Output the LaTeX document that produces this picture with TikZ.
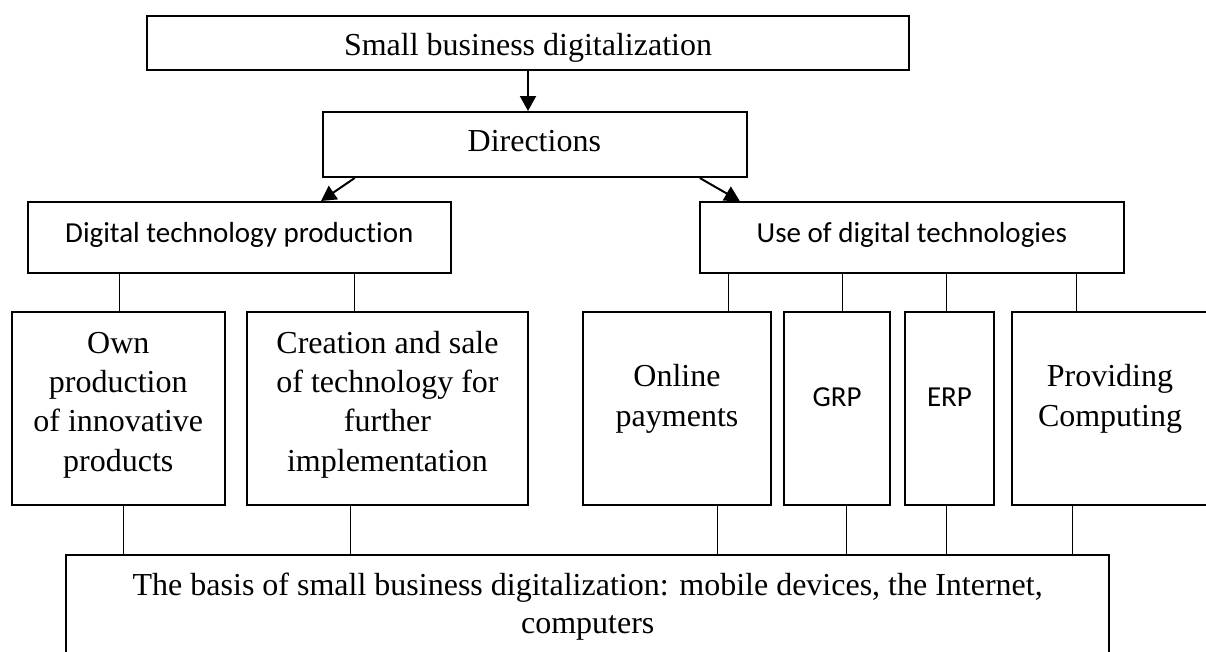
\documentclass[tikz,border=0pt]{standalone}
\usepackage{fontspec}
\setmainfont{Liberation Serif}
\newfontfamily\calfont[Ligatures=NoCommon]{Carlito}
\usetikzlibrary{arrows.meta}
% centred lines whose anchor is the baseline of the first line
\newcommand\stacklines[1]{\begin{tabular}[t]{@{}c@{}}#1\end{tabular}}
\begin{document}
\begin{tikzpicture}[x=1pt,y=-1pt,
  frame/.style={draw=black, line width=2pt, inner sep=0pt},
  serif/.style={font=\fontsize{32}{39.3}\selectfont, inner sep=0pt, anchor=base},
  sans/.style={font=\calfont\fontsize{29}{35}\selectfont, inner sep=0pt, anchor=base},
  link/.style={draw=black, line width=1pt},
  flow/.style={draw=black, line width=2pt, -{Triangle[width=16pt,length=15pt]}}]
\useasboundingbox (0,0) rectangle (1206,651);
\clip (0,0) rectangle (1206,651);

% boxes
\node[frame, minimum width=762.7pt, minimum height=54.3pt] (top) at (528,42.9) {};
\node[frame, minimum width=424pt, minimum height=65pt] (dir) at (534.5,144.5) {};
\node[frame, minimum width=423pt, minimum height=71pt] (dtp) at (239.3,237.5) {};
\node[frame, minimum width=424pt, minimum height=71pt] (udt) at (911.8,237.5) {};
\node[frame, minimum width=212.7pt, minimum height=193pt] (own) at (118.3,408.5) {};
\node[frame, minimum width=281pt, minimum height=193pt] (cre) at (387.5,408.5) {};
\node[frame, minimum width=187.6pt, minimum height=193pt] (onl) at (677,408.5) {};
\node[frame, minimum width=105.4pt, minimum height=193pt] (grp) at (837.1,408.5) {};
\node[frame, minimum width=88.7pt, minimum height=193pt] (erp) at (949.7,408.5) {};
\node[frame, minimum width=196pt, minimum height=193pt] (prv) at (1110,408.5) {};
\node[frame, minimum width=1042.6pt, minimum height=145pt] (base) at (587.7,627.5) {};

% texts
\node[serif] (topt) at (528,55) {Small business digitalization};
\node[serif] (dirt) at (534.3,151.7) {Directions};
\node[sans] (dtpt) at (239.3,242.3) {Digital technology production};
\node[sans] (udtt) at (911.8,242.3) {Use of digital technologies};
\node[serif] (ownt) at (118.3,353.3) {\stacklines{Own\\production\\of innovative\\products}};
\node[serif] (cret) at (387.5,353.3) {\stacklines{Creation and sale\\of technology for\\further\\implementation}};
\node[serif] (onlt) at (677,386.7) {\stacklines{Online\\payments}};
\node[sans] (grpt) at (837.1,406.7) {GRP};
\node[sans] (erpt) at (949.5,406.7) {ERP};
\node[serif] (prvt) at (1110,386.7) {\stacklines{Providing\\Computing}};
\node[serif, font=\fontsize{32}{38}\selectfont] (baset) at (587.7,595)
  {\stacklines{The basis of small business digitalization: mobile devices, the Internet,\\computers\hspace{11pt}}};

% arrows
\draw[flow] (top.south) -- (top.south |- dir.north);
\coordinate (al) at (354.7,0);
\coordinate (bl) at (321,0);
\coordinate (ar) at (699.8,0);
\coordinate (br) at (739.7,0);
\draw[flow] (al |- dir.south) -- (bl |- dtp.north);
\draw[flow] (ar |- dir.south) -- (br |- udt.north);

% upper links
\coordinate (u1) at (119.4,0);
\coordinate (u2) at (354.7,0);
\coordinate (u3) at (728.5,0);
\coordinate (u4) at (842.7,0);
\coordinate (u5) at (946.5,0);
\coordinate (u6) at (1076.6,0);
\draw[link] (u1 |- dtp.south) -- (u1 |- own.north);
\draw[link] (u2 |- dtp.south) -- (u2 |- cre.north);
\draw[link] (u3 |- udt.south) -- (u3 |- onl.north);
\draw[link] (u4 |- udt.south) -- (u4 |- grp.north);
\draw[link] (u5 |- udt.south) -- (u5 |- erp.north);
\draw[link] (u6 |- udt.south) -- (u6 |- prv.north);

% lower links
\coordinate (d1) at (123.8,0);
\coordinate (d2) at (350.7,0);
\coordinate (d3) at (717.7,0);
\coordinate (d4) at (846.7,0);
\coordinate (d5) at (946.5,0);
\coordinate (d6) at (1072.6,0);
\draw[link] (d1 |- own.south) -- (d1 |- base.north);
\draw[link] (d2 |- cre.south) -- (d2 |- base.north);
\draw[link] (d3 |- onl.south) -- (d3 |- base.north);
\draw[link] (d4 |- grp.south) -- (d4 |- base.north);
\draw[link] (d5 |- erp.south) -- (d5 |- base.north);
\draw[link] (d6 |- prv.south) -- (d6 |- base.north);
\end{tikzpicture}
\end{document}
